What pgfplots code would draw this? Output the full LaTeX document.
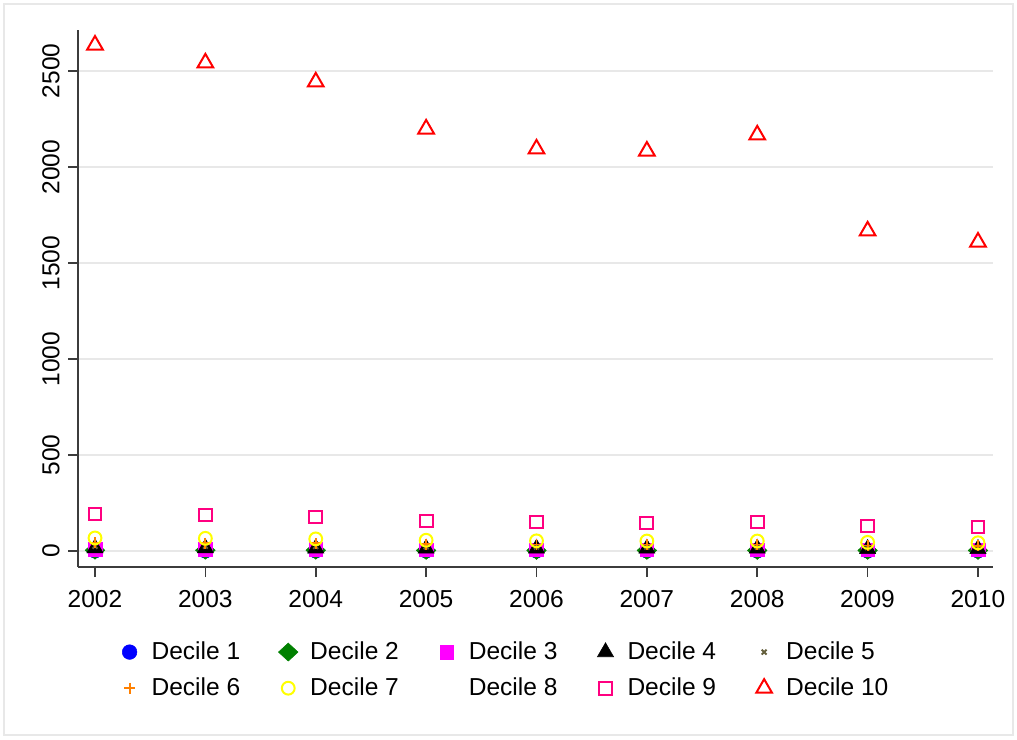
\documentclass[border=0pt]{standalone}
\usepackage{pgfplots}
\usepackage{pgfplotstable}
\pgfplotsset{compat=1.18}
\usepackage{fontspec}
\setmainfont{Liberation Sans}
\usetikzlibrary{plotmarks}

\definecolor{dblue}{RGB}{0,0,255}
\definecolor{dgreen}{RGB}{0,128,0}
\definecolor{dmagenta}{RGB}{255,0,255}
\definecolor{dolive}{RGB}{100,95,60}
\definecolor{dorange}{RGB}{255,128,0}
\definecolor{dyellow}{RGB}{255,255,0}
\definecolor{dpink}{RGB}{255,0,128}
\definecolor{dred}{RGB}{255,0,0}
\definecolor{gridgray}{RGB}{232,232,232}
\definecolor{axgray}{RGB}{60,60,60}

% year, decile means
\pgfplotstableread{
year d1 d2 d3 d4 d5 d6 d7 d8 d9 d10
2002 1 4 8 15 25 42 68 95 193 2635
2003 1 4 8 15 25 41 66 93 188 2542
2004 1 4 8 14 24 40 63 90 177 2443
2005 1 3 7 13 22 36 56 80 156 2198
2006 1 3 7 13 21 34 53 77 151 2094
2007 1 3 7 13 21 34 52 76 146 2083
2008 1 3 7 13 21 34 52 76 151 2167
2009 1 3 6 11 18 29 45 65 130 1667
2010 1 3 6 11 18 28 43 63 125 1609
}\dectab

\begin{document}
\fontsize{18.4}{22}\selectfont
\begin{tikzpicture}
\path[use as bounding box] (0pt,0pt) rectangle (762.75pt,554.25pt);
\draw[gridgray, line width=1pt] (3pt,3pt) rectangle (759.75pt,551.25pt);
\begin{axis}[
    at={(58.5pt,129pt)}, anchor=south west,
    scale only axis,
    width=686.25pt, height=402.75pt,
    xmin=2001.846, xmax=2010.136,
    ymin=-83.3, ymax=2713.5,
    axis lines=left,
    axis line style={axgray, line width=1.2pt, -},
    xtick={2002,...,2010},
    ytick={0,500,1000,1500,2000,2500},
    /pgf/number format/1000 sep={},
    x tick label style={yshift=-3.5pt},
    yticklabel style={rotate=90, anchor=south},
    tick align=outside,
    major tick length=7.5pt,
    tick style={axgray, line width=1.2pt},
    ymajorgrids,
    grid style={gridgray, line width=1.5pt},
    /pgf/number format/assume math mode=true,
    ticklabel style={font=\fontsize{18.4}{22}\selectfont},
    legend columns=5,
    legend cell align=left,
    legend style={draw=none, fill=none, inner sep=0pt,
        at={(rel axis cs:0.043,-0.133)}, anchor=north west,
        font=\fontsize{18.4}{22}\selectfont,
        /tikz/every odd column/.append style={column sep=5.5pt},
        /tikz/every even column/.append style={column sep=25pt},
        row sep=7pt},
    dec/.style={only marks,
        legend image code/.code={\path[draw=none, fill=none] (-9pt,-6pt) rectangle (9pt,6pt);
            \draw[##1] plot coordinates {(0pt,0pt)};}},
]
\addplot[dec, mark=*, mark size=5.5pt, dblue, mark options={fill=dblue}] table[x=year,y=d1] {\dectab};
\addlegendentry{Decile 1}
\addplot[dec, mark=diamond*, mark size=6.75pt, dgreen, mark options={fill=dgreen, xscale=1.45}] table[x=year,y=d2] {\dectab};
\addlegendentry{Decile 2}
\addplot[dec, mark=square*, mark size=5.1pt, dmagenta, mark options={fill=dmagenta}] table[x=year,y=d3] {\dectab};
\addlegendentry{Decile 3}
\addplot[dec, mark=triangle*, mark size=7pt, black, mark options={fill=black}] table[x=year,y=d4] {\dectab};
\addlegendentry{Decile 4}
\addplot[dec, mark=x, mark size=2.6pt, dolive, mark options={line width=1.4pt}] table[x=year,y=d5] {\dectab};
\addlegendentry{Decile 5}
\addplot[dec, mark=+, mark size=4.1pt, dorange, mark options={line width=1.4pt}] table[x=year,y=d6] {\dectab};
\addlegendentry{Decile 6}
\addplot[dec, mark=o, mark size=4.8pt, dyellow, mark options={line width=1.5pt}] table[x=year,y=d7] {\dectab};
\addlegendentry{Decile 7}
\addplot[dec, mark=*, mark size=4pt, opacity=0] table[x=year,y=d8] {\dectab};
\addlegendentry{Decile 8}
\addplot[dec, mark=square, mark size=4.8pt, dpink, mark options={line width=1.5pt}] table[x=year,y=d9] {\dectab};
\addlegendentry{Decile 9}
\addplot[dec, mark=triangle, mark size=6.8pt, dred, mark options={line width=1.5pt}] table[x=year,y=d10] {\dectab};
\addlegendentry{Decile 10}
\end{axis}
\end{tikzpicture}
\end{document}
